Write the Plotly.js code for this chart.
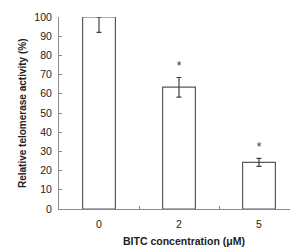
<!DOCTYPE html>
<html><head><meta charset="utf-8">
<script src="https://cdn.plot.ly/plotly-3.0.1.min.js"></script>
<style>html,body{margin:0;padding:0;background:#fff}#c{width:290px;height:247px}</style>
</head><body><div id="c"></div>
<script>
var categories = ['0', '2', '5'];
var activity = [100, 63.5, 24.3];
var errPlus = [0, 5, 2.1];
var errMinus = [8, 5.2, 2.1];
var starLabels = ['', '*', '*'];
var starY = [null, 74, 32];
var yTicks = [0,10,20,30,40,50,60,70,80,90,100];

var font = 'Liberation Sans, Arial, sans-serif';
var traces = [{
  type: 'bar', x: categories, y: activity, width: 0.41,
  marker: {color: '#ffffff', line: {color: '#5a5a5a', width: 1.2}},
  error_y: {type: 'data', symmetric: false, array: errPlus, arrayminus: errMinus,
            color: '#404040', thickness: 1.2, width: 2.5},
  hoverinfo: 'none'
},{
  type: 'scatter', mode: 'text', x: categories, y: starY, text: starLabels,
  textfont: {family: font, size: 12, color: '#333'}, hoverinfo: 'none'
}];
var layout = {
  width: 290, height: 247, showlegend: false,
  paper_bgcolor: '#fff', plot_bgcolor: '#fff',
  margin: {l: 59, r: 0, t: 17, b: 38, pad: 0},
  font: {family: font, size: 10, color: '#222'},
  xaxis: {type: 'category', range: [-0.5, 2.3875], showgrid: false, zeroline: false,
          showline: true, linecolor: '#8a8a8a', linewidth: 1,
          ticks: 'inside', tickson: 'boundaries', ticklen: 3, tickcolor: '#8a8a8a',
          ticklabelstandoff: 5, tickfont: {size: 10.5, family: font, color: '#222'}},
  yaxis: {range: [0, 100], tickvals: yTicks, showgrid: false, zeroline: false,
          showline: true, linecolor: '#8a8a8a', linewidth: 1,
          ticks: 'inside', ticklen: 3, tickcolor: '#8a8a8a',
          ticklabelstandoff: 4, tickfont: {size: 10.5, family: font, color: '#222'}},
  annotations: [
    {text: '<b>BITC concentration (μM)</b>', xref: 'paper', yref: 'paper',
     x: 0.541, y: -0.165, xanchor: 'center', yanchor: 'middle', showarrow: false,
     font: {size: 10.5, family: font, color: '#222'}},
    {text: '<b>Relative telomerase activity (%)</b>', xref: 'paper', yref: 'paper',
     x: -0.16, y: 0.5, xanchor: 'center', yanchor: 'middle', textangle: -90, showarrow: false,
     font: {size: 10, family: font, color: '#222'}}
  ]
};
Plotly.newPlot('c', traces, layout, {staticPlot: true, displayModeBar: false});
</script></body></html>
